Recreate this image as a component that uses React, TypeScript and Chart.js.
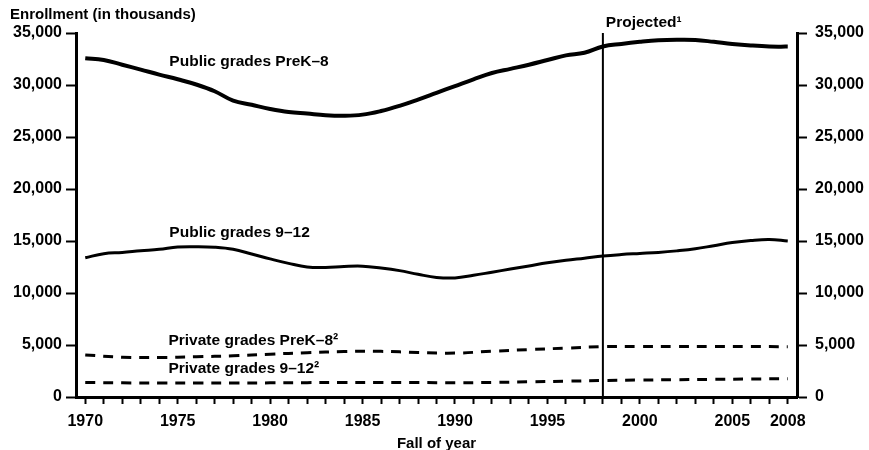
import React, { useEffect, useRef } from "react";
import { Chart, registerables } from "chart.js";

Chart.register(...registerables);

const years = [
  1970, 1971, 1972, 1973, 1974, 1975, 1976, 1977, 1978, 1979,
  1980, 1981, 1982, 1983, 1984, 1985, 1986, 1987, 1988, 1989,
  1990, 1991, 1992, 1993, 1994, 1995, 1996, 1997, 1998, 1999,
  2000, 2001, 2002, 2003, 2004, 2005, 2006, 2007, 2008,
];

const publicPreK8 = [
  32570, 32400, 31950, 31480, 31000, 30550, 30050, 29400, 28500, 28100,
  27700, 27400, 27250, 27100, 27050, 27150, 27500, 28000, 28600, 29250,
  29900, 30550, 31150, 31550, 31950, 32400, 32850, 33100, 33700, 33950,
  34150, 34300, 34350, 34330, 34150, 33950, 33800, 33700, 33690,
];

const public912 = [
  13390, 13780, 13900, 14060, 14200, 14420, 14450, 14400, 14200, 13750,
  13280, 12850, 12500, 12450, 12550, 12580, 12400, 12150, 11800, 11500,
  11450, 11700, 12000, 12300, 12600, 12900, 13150, 13350, 13560, 13700,
  13800, 13900, 14050, 14250, 14550, 14850, 15050, 15150, 15000,
];

const privateYears = [
  1970, 1972, 1974, 1976, 1978, 1980, 1982, 1984, 1986, 1988,
  1990, 1992, 1994, 1996, 1998, 2000, 2002, 2004, 2006, 2008,
];

const privatePreK8 = [
  4050, 3820, 3800, 3870, 3960, 4120, 4260, 4370, 4390, 4280,
  4220, 4400, 4560, 4700, 4840, 4860, 4860, 4860, 4850, 4840,
];

const private912 = [
  1400, 1360, 1340, 1340, 1350, 1360, 1380, 1400, 1400, 1390,
  1370, 1400, 1460, 1520, 1590, 1630, 1660, 1700, 1730, 1760,
];

const xTickLabels = [1970, 1975, 1980, 1985, 1990, 1995, 2000, 2005, 2008];
const projectionYear = 1998;

const seriesLabels = [
  { text: "Public grades PreK\u20138", year: 1974.55, value: 32200 },
  { text: "Public grades 9\u201312", year: 1974.55, value: 15770 },
  { text: "Private grades PreK\u20138\u00b2", year: 1974.5, value: 5385 },
  { text: "Private grades 9\u201312\u00b2", year: 1974.5, value: 2690 },
  { text: "Projected\u00b9", year: 1998.16, value: 35960 },
];

const FONT = '"Liberation Sans", Arial, Helvetica, sans-serif';

const pairs = (xs: number[], ys: number[]) => xs.map((x, i) => ({ x, y: ys[i] }));

const annotationPlugin = {
  id: "annotations",
  afterDatasetsDraw(chart: any) {
    const { ctx } = chart;
    const x = chart.scales.x;
    const y = chart.scales.y;
    ctx.save();
    const px = x.getPixelForValue(projectionYear);
    ctx.strokeStyle = "#000";
    ctx.lineWidth = 2;
    ctx.beginPath();
    ctx.moveTo(px, y.getPixelForValue(35000));
    ctx.lineTo(px, y.getPixelForValue(0));
    ctx.stroke();

    ctx.fillStyle = "#000";
    ctx.textBaseline = "middle";
    ctx.textAlign = "left";
    ctx.font = `bold 15.5px ${FONT}`;
    seriesLabels.forEach((l) => {
      ctx.fillText(l.text, x.getPixelForValue(l.year), y.getPixelForValue(l.value));
    });
    ctx.font = `bold 15px ${FONT}`;
    ctx.fillText("Enrollment (in thousands)", 10, 15);
    ctx.restore();
  },
};

export default function App() {
  const ref = useRef<HTMLCanvasElement | null>(null);

  useEffect(() => {
    document.body.style.margin = "0";
    document.body.style.overflow = "hidden";
    const canvas = ref.current!;
    const yTicks = {
      stepSize: 5000,
      color: "#000",
      font: { family: FONT, size: 16, weight: "bold" as const },
      callback: (v: any) => Number(v).toLocaleString("en-US"),
    };
    const chart = new Chart(canvas, {
      type: "line",
      data: {
        datasets: [
          {
            label: "Public grades PreK-8",
            data: pairs(years, publicPreK8),
            borderColor: "#000",
            borderWidth: 4,
            pointRadius: 0,
            tension: 0.4,
            fill: false,
          },
          {
            label: "Public grades 9-12",
            data: pairs(years, public912),
            borderColor: "#000",
            borderWidth: 3,
            pointRadius: 0,
            tension: 0.4,
            fill: false,
          },
          {
            label: "Private grades PreK-8",
            data: pairs(privateYears, privatePreK8),
            borderColor: "#000",
            borderWidth: 3,
            borderDash: [10, 8],
            pointRadius: 0,
            tension: 0.4,
            fill: false,
          },
          {
            label: "Private grades 9-12",
            data: pairs(privateYears, private912),
            borderColor: "#000",
            borderWidth: 3,
            borderDash: [10, 8],
            pointRadius: 0,
            tension: 0.4,
            fill: false,
          },
        ],
      },
      options: {
        responsive: false,
        animation: false,
        events: [],
        layout: { padding: { top: 33, left: 0, right: 0, bottom: 0 } },
        plugins: {
          legend: { display: false },
          title: { display: false },
          tooltip: { enabled: false },
        },
        scales: {
          x: {
            type: "linear",
            min: 1969.5,
            max: 2008.5,
            afterBuildTicks: (s: any) => {
              s.ticks = years.map((v) => ({ value: v }));
            },
            afterFit: (s: any) => {
              s.height = 53;
            },
            border: { display: true, color: "#000", width: 3 },
            grid: {
              display: true,
              drawOnChartArea: false,
              drawTicks: true,
              tickLength: 7,
              tickWidth: 2,
              tickColor: "#000",
            },
            ticks: {
              autoSkip: false,
              maxRotation: 0,
              padding: 8,
              color: "#000",
              font: { family: FONT, size: 16, weight: "bold" },
              callback: (v: any) => (xTickLabels.includes(Number(v)) ? String(v) : ""),
            },
            title: {
              display: true,
              text: "Fall of year",
              color: "#000",
              font: { family: FONT, size: 15, weight: "bold" },
              padding: { top: 0, bottom: -3 },
            },
          },
          y: {
            position: "left",
            min: 0,
            max: 35000,
            afterFit: (s: any) => {
              s.width = 76;
            },
            border: { display: true, color: "#000", width: 3 },
            grid: {
              display: true,
              drawOnChartArea: false,
              drawTicks: true,
              tickLength: 10,
              tickWidth: 2,
              tickColor: "#000",
            },
            ticks: { ...yTicks, padding: 4 },
          },
          y2: {
            position: "right",
            min: 0,
            max: 35000,
            afterFit: (s: any) => {
              s.width = 72;
            },
            border: { display: true, color: "#000", width: 3 },
            grid: {
              display: true,
              drawOnChartArea: false,
              drawTicks: true,
              tickLength: 10,
              tickWidth: 2,
              tickColor: "#000",
            },
            ticks: { ...yTicks, padding: 8 },
          },
        },
      },
      plugins: [annotationPlugin],
    });
    return () => chart.destroy();
  }, []);

  return (
    <div style={{ width: 869, height: 450, background: "#fff" }}>
      <canvas ref={ref} width={869} height={450} style={{ display: "block" }} />
    </div>
  );
}
